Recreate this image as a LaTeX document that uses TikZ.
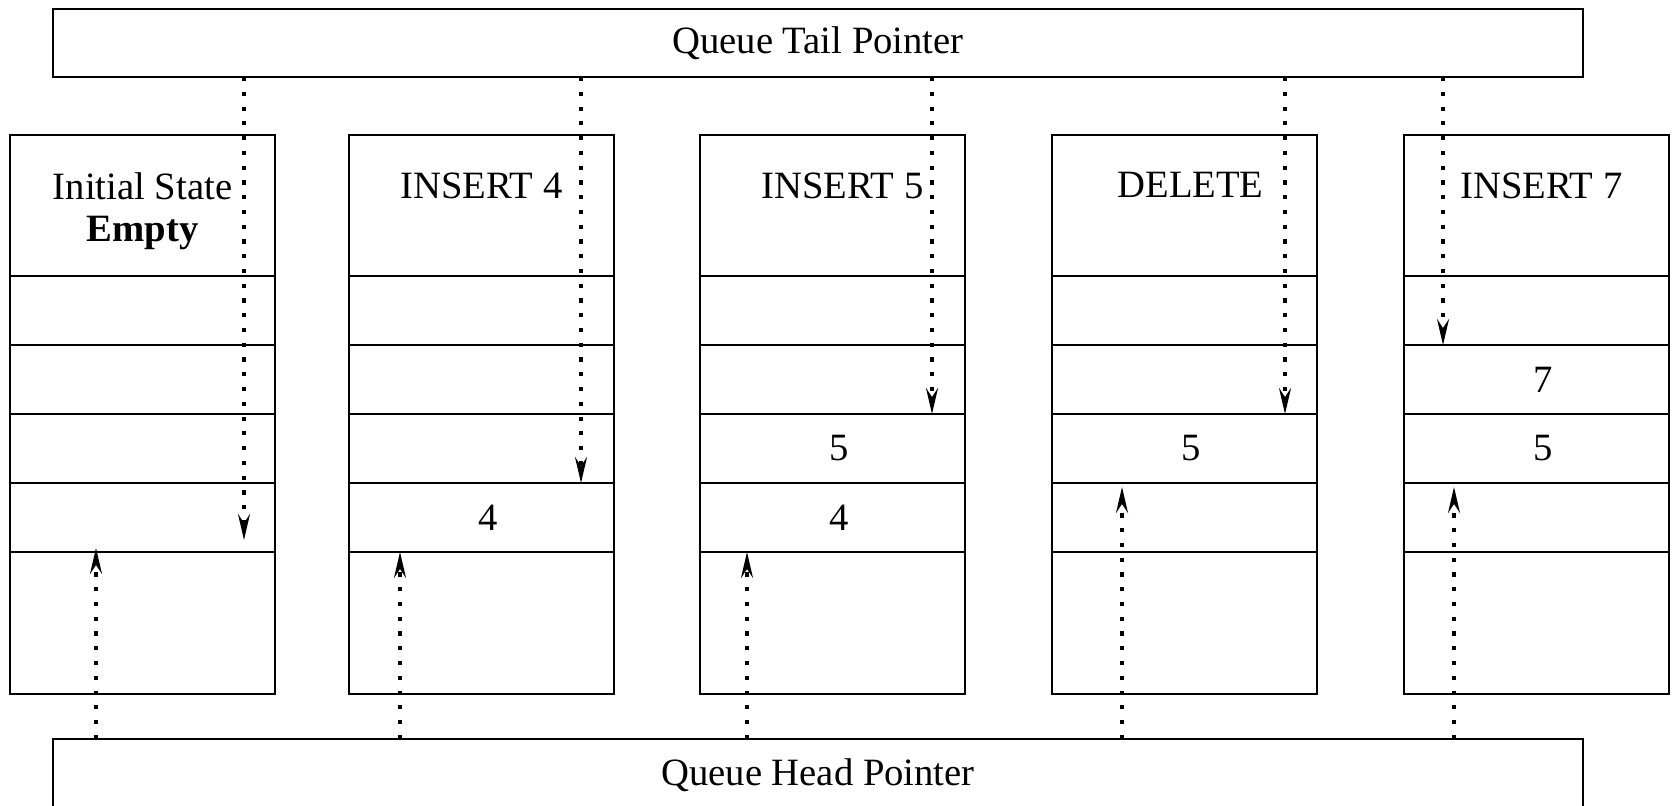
\documentclass[tikz,border=0pt]{standalone}
\usepackage{fontspec}
\setmainfont{Liberation Serif}
\usetikzlibrary{arrows.meta,positioning}
\tikzset{
  bar/.style={draw,line width=0.8pt,outer sep=0pt,minimum width=15.3cm,
              minimum height=0.68cm,font=\fontsize{11}{12}\selectfont},
  hcell/.style={draw,line width=0.8pt,outer sep=0pt,minimum width=2.65cm,
              minimum height=1.41cm},
  cell/.style={draw,line width=0.8pt,outer sep=0pt,minimum width=2.65cm,
              minimum height=0.69cm,font=\fontsize{11}{12}\selectfont},
  bcell/.style={cell,minimum height=1.42cm},
  oplabel/.style={anchor=north,align=center,font=\fontsize{11}{12}\selectfont},
  ptr/.style={-{Stealth[length=2.6mm,width=1.2mm,inset=0.9mm]},line width=0.9pt,
              dash pattern=on 1.2pt off 3pt},
}

\begin{document}
\begin{tikzpicture}
  \useasboundingbox (0,0) rectangle (16.72,-8.06);
  \clip (0,0) rectangle (16.72,-8.06);
  % pointer bars
  \node[bar] (tail) at (8.18,-0.43) {Queue Tail Pointer};
  \node[bar,minimum height=0.72cm] (head) at (8.18,-7.75) {Queue Head Pointer};
  % one column per queue state, cells listed top to bottom
  \foreach \i/\x/\va/\vb/\vc/\vd in {1/0.10/{}/{}/{}/{},
      2/3.49/{}/{}/{}/4, 3/7.00/{}/{}/5/4, 4/10.52/{}/{}/5/{}, 5/14.04/{}/7/5/{}}{
    \node[hcell,anchor=north west] (h\i) at (\x,-1.35) {};
    \node[cell,below=0pt of h\i] (c\i-1) {\kern1.3mm\va};
    \node[cell,below=0pt of c\i-1] (c\i-2) {\kern1.3mm\vb};
    \node[cell,below=0pt of c\i-2] (c\i-3) {\kern1.3mm\vc};
    \node[cell,below=0pt of c\i-3] (c\i-4) {\kern1.3mm\vd};
    \node[bcell,below=0pt of c\i-4] (b\i) {};
  }
  \node[oplabel] (op1) at ([yshift=-0.25cm]h1.north) {Initial State\\\textbf{Empty}};
  \node[oplabel] (op2) at ([yshift=-0.25cm]h2.north) {INSERT 4};
  \node[oplabel] (op3) at ([xshift=0.1cm,yshift=-0.25cm]h3.north) {INSERT 5};
  \node[oplabel] (op4) at ([xshift=0.06cm,yshift=-0.25cm]h4.north) {DELETE};
  \node[oplabel] (op5) at ([xshift=0.05cm,yshift=-0.25cm]h5.north) {INSERT 7};
  % where the tail pointer lands
  \coordinate (tt1) at ([xshift=-0.31cm,yshift=0.12cm]c1-4.south east);
  \coordinate (tt2) at ([xshift=-0.33cm]c2-4.north east);
  \coordinate (tt3) at ([xshift=-0.33cm]c3-3.north east);
  \coordinate (tt4) at ([xshift=-0.32cm]c4-3.north east);
  \coordinate (tt5) at ([xshift=0.39cm]c5-2.north west);
  % where the head pointer lands
  \coordinate (ht1) at ([xshift=0.86cm,yshift=0.04cm]c1-4.south west);
  \coordinate (ht2) at ([xshift=0.51cm]c2-4.south west);
  \coordinate (ht3) at ([xshift=0.47cm]c3-4.south west);
  \coordinate (ht4) at ([xshift=0.70cm,yshift=-0.04cm]c4-4.north west);
  \coordinate (ht5) at ([xshift=0.50cm,yshift=-0.04cm]c5-4.north west);
  \foreach \i in {1,...,5}{
    \draw[ptr] (tail.south -| tt\i) -- (tt\i);
    \draw[ptr] (head.north -| ht\i) -- (ht\i);
  }
\end{tikzpicture}
\end{document}
